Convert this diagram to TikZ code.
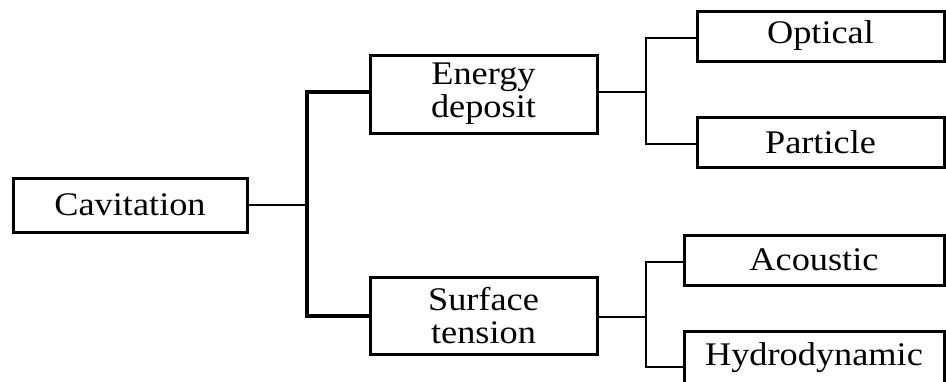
\documentclass[tikz,border=0pt]{standalone}
\usepackage{fontspec}
\setmainfont{Liberation Serif}[FakeStretch=1.1]
\begin{document}
\begin{tikzpicture}[x=1pt,y=-1pt,
  box/.style={draw,line width=3pt,rectangle,inner sep=0pt,anchor=center,
    font=\fontsize{33}{33}\selectfont,align=center},
  conn/.style={line width=2.4pt},
  trunk/.style={line width=3.6pt}]
\useasboundingbox[fill=white] (0,0) rectangle (946,381);
\node[box,minimum width=234pt,minimum height=54pt] (cav) at (130,205) {Cavitation};
\node[box,minimum width=227pt,minimum height=78pt] (E) at (483.5,94) {Energy\\deposit};
\node[box,minimum width=227pt,minimum height=77pt] (S) at (483.5,315.5) {Surface\\tension};
\node[box,minimum width=247pt,minimum height=50pt] (O) at (820.5,36) {Optical};
\node[box,minimum width=247pt,minimum height=50pt] (P) at (820.5,142) {Particle};
\node[box,minimum width=260pt,minimum height=50pt] (A) at (814,260) {Acoustic};
\node[box,minimum width=260pt,minimum height=54pt] (H) at (814,358) {Hydrodynamic};
\coordinate (j1) at (307,205);
\coordinate (j2) at (646,92);
\coordinate (j3) at (646,317);
\coordinate (hin) at (684,367);
\draw[conn] (cav.east) -- (j1);
\draw[trunk] (E.west |- 0,92) -| (j1) |- (S.west |- 0,316);
\draw[conn] (E.east |- j2) -- (j2);
\draw[conn] (O.west |- 0,38) -| (j2) |- (P.west |- 0,144);
\draw[conn] (S.east |- j3) -- (j3);
\draw[conn] (A.west |- 0,262) -| (j3) |- (hin);
\end{tikzpicture}
\end{document}
